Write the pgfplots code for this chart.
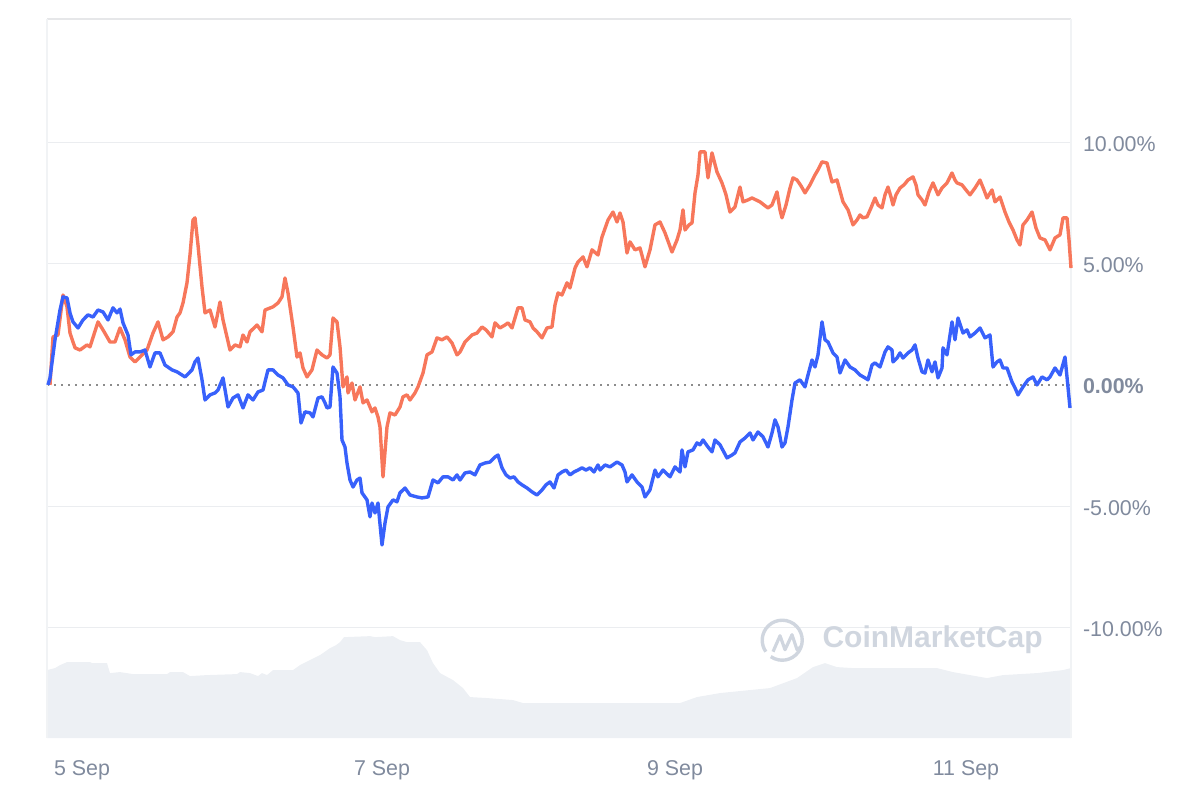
\documentclass[border=0pt]{standalone}
\usepackage{pgfplots}
\pgfplotsset{compat=1.18}
\usepackage{fontspec}
\setmainfont{Liberation Sans}
\definecolor{orangeL}{HTML}{F7775B}
\definecolor{blueL}{HTML}{3861FB}
\definecolor{volc}{HTML}{EDF0F4}
\definecolor{gridc}{HTML}{EBEDF0}
\definecolor{framec}{HTML}{E6E7E9}
\definecolor{labc}{HTML}{808A9D}
\definecolor{wmc}{HTML}{D0D6DF}
\begin{document}
\begin{tikzpicture}
\path[use as bounding box] (0,0) rectangle (600pt,400pt);
% volume (relative units, bottom band)
\begin{axis}[at={(23.5pt,31pt)}, anchor=south west, scale only axis,
  width=512pt, height=359.5pt, xmin=47, xmax=1071, ymin=0, ymax=720,
  hide axis]
\addplot[fill=volc, draw=none] coordinates {
(47,68)(55,70)(60,73)(67,76)(90,76)(92,75)(107,75)(110,65)(120,66)(133,64)
(167,64)(170,66)(183,66)(190,62)(207,63)(237,64)(240,66)(250,65)(258,62)
(262,65)(267,63)(273,68)(293,68)(300,73)(310,78)(320,83)(330,90)(336,93)
(340,96)(344,101)(370,102)(375,101)(393,102)(400,98)(407,96)(420,96)(427,88)(433,75)
(440,65)(453,58)(463,50)(470,41)(487,40)(513,38)(523,35)(680,35)(697,41)
(720,45)(770,50)(797,60)(813,71)(825,75)(837,71)(853,70)(937,70)(953,66)
(970,63)(987,60)(1003,63)(1037,65)(1063,68)(1071,70)
} \closedcycle;
\end{axis}
\begin{axis}[at={(23.5pt,31pt)}, anchor=south west, scale only axis,
  width=512pt, height=359.5pt,
  xmin=47, xmax=1071, ymin=-14.56, ymax=15.09,
  axis line style={draw=none},
  major tick length=0pt,
  xtick={82,382,675,966},
  xticklabels={5 Sep,7 Sep,9 Sep,11 Sep},
  ytick={-10,-5,5,10},
  yticklabels={-10.00\%,-5.00\%,5.00\%,10.00\%},
  extra y ticks={0},
  extra y tick labels={\textbf{0.00\%}},
  extra y tick style={grid style={dash pattern=on 1.1pt off 2.4pt, draw=black!45, line width=1.1pt}},
  ymajorgrids, grid style={draw=gridc, line width=0.6pt},
  yticklabel pos=right,
  tick label style={font=\fontsize{10.7pt}{12pt}\selectfont, text=labc},
  yticklabel style={anchor=west, xshift=2.5pt, yshift=-0.8pt},
  xticklabel style={yshift=-7.5pt},
  clip=false,
]
\draw[framec, line width=0.8pt] (rel axis cs:0,1) -- (rel axis cs:1,1);
\draw[gridc!70, line width=0.6pt] (rel axis cs:0,0) -- (rel axis cs:0,1);
\draw[gridc!70, line width=0.6pt] (rel axis cs:1,0) -- (rel axis cs:1,1);
% watermark
\draw[wmc, line width=1.7pt] (rel axis cs:0.718,0.136) ++(-125:10pt) arc[start angle=-125, end angle=215, radius=10pt];
\draw[wmc, line width=1.6pt, line join=round] (rel axis cs:0.709,0.120) -- ++(3.5pt,8pt) -- ++(2.5pt,-7pt) -- ++(3.5pt,7.5pt) -- ++(2.5pt,-7.5pt) -- ++(2pt,1.5pt);
\node[anchor=west, text=wmc, font=\fontsize{15pt}{17pt}\selectfont\bfseries, inner sep=0pt] at (rel axis cs:0.757,0.136) {CoinMarketCap};
% orange series
\addplot[orangeL, line width=1.7pt, line join=round] coordinates {
(50,0)(53,1.98)(58,2.06)(63,3.71)(67,3.22)(70,2.14)(75,1.53)(80,1.44)(87,1.65)
(90,1.57)(98,2.60)(103,2.27)(110,1.77)(115,1.77)(120,2.35)(125,1.86)(130,1.15)
(135,0.95)(140,1.15)(147,1.44)(153,2.14)(158,2.60)(163,1.86)(168,1.98)(173,2.19)
(177,2.80)(180,2.97)(183,3.38)(187,4.21)(190,5.36)(193,6.80)(195,6.89)(198,5.77)
(202,4.04)(205,2.97)(210,3.09)(215,2.39)(220,3.42)(223,2.68)(230,1.44)(235,1.65)
(240,1.57)(243,2.06)(247,1.77)(250,2.19)(257,2.47)(262,2.19)(265,3.09)(273,3.22)
(278,3.38)(282,3.63)(285,4.41)(288,3.79)(293,2.39)(297,1.15)(300,1.32)(303,0.70)
(307,0.33)(312,0.62)(317,1.44)(322,1.24)(327,1.11)(330,1.24)(333,2.76)(337,2.60)
(340,1.57)(343,-0.08)(347,0.33)(348,-0.33)(352,0.08)(355,-0.62)(360,-0.08)
(363,-0.74)(367,-0.62)(370,-0.91)(372,-1.11)(375,-0.95)(378,-1.32)(380,-1.73)
(383,-3.79)(387,-1.73)(390,-1.15)(395,-1.24)(400,-0.91)(403,-0.49)(407,-0.41)
(410,-0.62)(415,-0.33)(418,-0.08)(423,0.49)(427,1.24)(432,1.36)(437,1.94)
(442,1.86)(447,1.98)(452,1.73)(457,1.24)(460,1.36)(465,1.77)(472,2.06)(477,2.14)
(482,2.39)(486,2.27)(492,1.98)(495,2.56)(500,2.35)(505,2.47)(508,2.56)(512,2.35)
(515,2.76)(518,3.18)(522,3.18)(525,2.68)(530,2.60)(533,2.35)(537,2.19)(542,1.94)
(547,2.35)(552,2.39)(555,3.30)(558,3.79)(562,3.71)(567,4.21)(570,4.00)(575,4.82)
(578,5.07)(583,5.28)(587,4.87)(592,5.57)(598,5.36)(602,6.10)(608,6.80)(613,7.13)
(617,6.72)(620,7.09)(623,6.72)(627,5.44)(630,5.90)(635,5.57)(640,5.65)(645,4.87)
(650,5.57)(655,6.60)(660,6.72)(665,6.27)(672,5.48)(677,5.98)(680,6.39)(683,7.22)
(685,6.39)(689,6.60)(692,6.68)(695,7.92)(698,8.66)(700,9.61)(705,9.61)(708,8.54)
(712,9.57)(717,8.78)(722,8.33)(726,7.84)(730,7.13)(735,7.34)(738,7.84)(740,8.16)
(743,7.55)(748,7.63)(752,7.71)(756,7.63)(760,7.55)(764,7.42)(768,7.30)(772,7.42)
(777,7.96)(780,7.22)(782,6.89)(786,7.42)(790,8.12)(793,8.54)(797,8.45)(801,8.21)
(805,7.92)(810,8.25)(815,8.66)(818,8.87)(822,9.20)(827,9.15)(832,8.37)(837,8.45)
(843,7.55)(848,7.22)(853,6.60)(857,6.80)(860,7.01)(863,6.89)(867,6.93)(871,7.30)
(875,7.71)(878,7.42)(882,7.30)(885,7.84)(888,8.16)(891,7.75)(893,7.42)(896,7.84)
(900,8.12)(904,8.25)(908,8.45)(913,8.58)(916,8.25)(918,7.84)(922,7.63)(925,7.42)
(929,7.96)(933,8.33)(938,7.84)(942,8.12)(947,8.33)(952,8.74)(955,8.45)(957,8.33)
(962,8.25)(966,8.04)(970,7.84)(975,8.12)(980,8.45)(984,8.04)(987,7.71)(992,8.04)
(995,7.55)(1000,7.75)(1005,7.13)(1009,6.72)(1013,6.39)(1017,5.98)(1020,5.77)
(1023,6.60)(1027,6.80)(1032,7.13)(1036,6.47)(1040,6.06)(1045,5.98)(1050,5.57)
(1055,6.06)(1058,6.14)(1060,6.19)(1063,6.89)(1067,6.89)(1069,5.98)(1071,4.82)
};
% blue series
\addplot[blueL, line width=1.7pt, line join=round] coordinates {
(48,0)(50,0.29)(55,1.86)(60,3.09)(63,3.63)(67,3.59)(70,2.97)(73,2.60)(78,2.35)
(83,2.68)(88,2.89)(93,2.80)(98,3.09)(103,3.01)(108,2.68)(113,3.18)(117,2.97)
(120,3.13)(123,2.56)(128,2.06)(131,1.24)(135,1.36)(140,1.36)(145,1.44)(150,0.74)
(155,1.32)(160,1.32)(165,0.82)(172,0.62)(177,0.54)(182,0.41)(185,0.33)(192,0.62)
(195,0.95)(198,1.11)(202,0.21)(205,-0.62)(210,-0.41)(215,-0.33)(218,-0.21)
(223,0.29)(228,-0.91)(233,-0.54)(238,-0.41)(243,-0.95)(248,-0.41)(253,-0.62)
(258,-0.29)(263,-0.21)(268,0.62)(273,0.62)(278,0.41)(283,0.29)(288,0)(293,-0.08)
(298,-0.33)(301,-1.57)(305,-1.11)(310,-1.15)(313,-1.32)(318,-0.54)(322,-0.49)
(325,-0.74)(327,-0.95)(330,-0.91)(333,0.74)(337,0.49)(340,-0.49)(342,-2.27)
(345,-2.56)(347,-3.22)(350,-3.92)(353,-4.21)(357,-3.92)(360,-3.84)(362,-4.45)
(367,-4.74)(370,-5.44)(372,-4.87)(375,-5.28)(378,-4.87)(382,-6.60)(385,-5.69)
(388,-5.03)(393,-4.74)(397,-4.82)(400,-4.45)(405,-4.25)(410,-4.54)(417,-4.62)
(422,-4.66)(428,-4.62)(433,-3.92)(438,-4.04)(443,-3.79)(448,-3.79)(453,-3.92)
(457,-3.71)(460,-3.92)(465,-3.63)(470,-3.59)(475,-3.71)(480,-3.30)(485,-3.22)
(490,-3.18)(495,-2.97)(498,-2.89)(502,-3.42)(506,-3.71)(510,-3.84)(514,-3.79)
(518,-4.00)(522,-4.12)(527,-4.25)(532,-4.41)(537,-4.54)(542,-4.33)(546,-4.12)
(550,-4.00)(554,-4.25)(558,-3.71)(562,-3.59)(566,-3.51)(570,-3.71)(574,-3.59)
(578,-3.51)(582,-3.42)(586,-3.51)(590,-3.42)(594,-3.59)(598,-3.30)(600,-3.51)
(605,-3.30)(610,-3.38)(617,-3.18)(622,-3.30)(625,-3.59)(627,-4.00)(632,-3.71)
(637,-4.00)(642,-4.21)(645,-4.62)(650,-4.33)(655,-3.51)(658,-3.79)(663,-3.51)
(670,-3.79)(675,-3.38)(680,-3.59)(682,-2.68)(685,-3.38)(688,-2.76)(693,-2.68)
(697,-2.39)(700,-2.47)(703,-2.27)(708,-2.56)(712,-2.76)(715,-2.27)(720,-2.47)
(727,-3.01)(732,-2.89)(735,-2.80)(740,-2.35)(745,-2.19)(750,-1.98)(753,-2.27)
(758,-1.94)(763,-2.14)(768,-2.56)(772,-1.98)(775,-1.44)(778,-1.73)(782,-2.56)
(785,-2.39)(788,-1.73)(792,-0.62)(795,0.08)(800,0.21)(805,-0.08)(808,0.41)
(812,1.03)(815,0.74)(818,1.24)(822,2.60)(825,1.86)(828,1.77)(833,1.32)(837,1.15)
(840,0.49)(845,1.03)(850,0.74)(855,0.62)(860,0.41)(865,0.29)(868,0.21)(872,0.82)
(875,0.91)(880,0.74)(885,1.36)(888,1.57)(892,1.44)(893,0.95)(897,1.11)(900,1.32)
(903,1.11)(908,1.32)(912,1.44)(915,1.65)(918,1.11)(922,0.54)(925,0.49)(928,1.03)
(932,0.54)(935,0.95)(938,0.29)(942,0.70)(943,1.53)(947,1.24)(952,2.60)(955,1.86)
(958,2.76)(963,2.14)(967,2.27)(970,1.98)(975,2.14)(980,2.35)(985,1.94)(990,2.06)
(993,0.74)(997,0.95)(1000,1.03)(1003,0.70)(1007,0.70)(1012,0.12)(1015,-0.12)
(1018,-0.41)(1023,-0.08)(1028,0.21)(1033,0.33)(1037,0)(1042,0.33)(1047,0.21)
(1050,0.33)(1055,0.70)(1060,0.41)(1065,1.15)(1067,0.33)(1070,-0.95)
};
\end{axis}
\end{tikzpicture}
\end{document}
